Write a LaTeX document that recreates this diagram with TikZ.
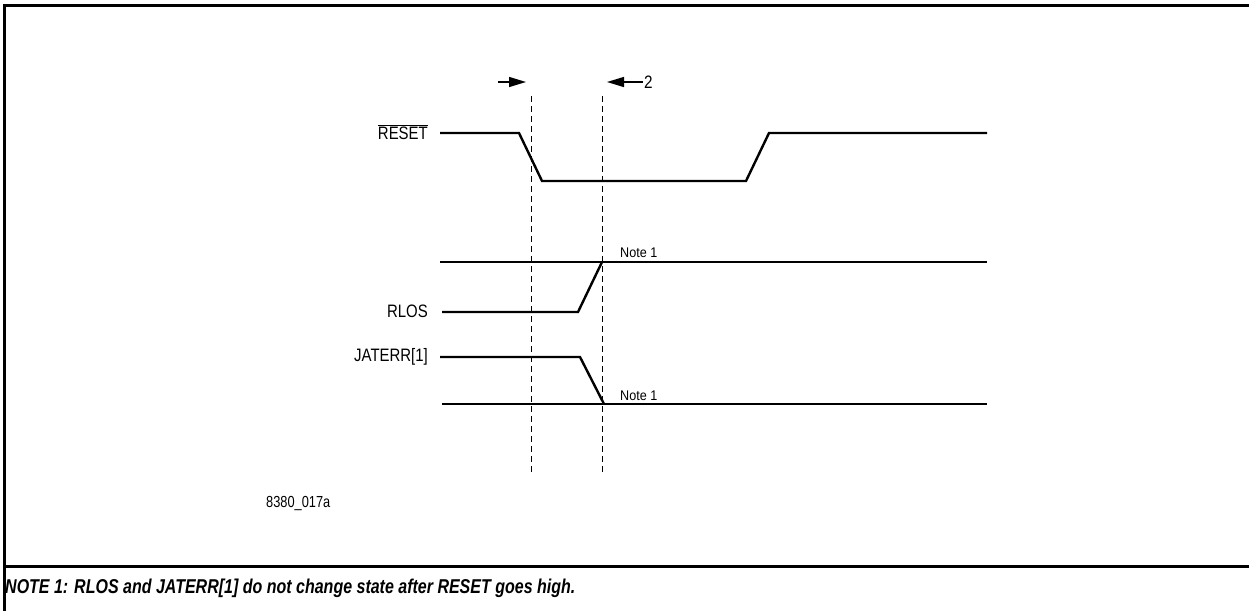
\documentclass[tikz,border=0pt]{standalone}
\usepackage{fontspec}
\setmainfont{Liberation Sans}
\usetikzlibrary{arrows.meta}
\newcommand{\narrow}[2]{\scalebox{#1}[1]{#2}}
\begin{document}
\begin{tikzpicture}[x=1pt,y=-1pt,
  frame/.style={line width=3pt},
  sig/.style={line width=2.4pt,line join=miter},
  guide/.style={line width=1pt,dash pattern=on 6pt off 4pt},
  marker/.style={line width=1.4pt,-{Triangle[length=17pt,width=10pt]}},
  lbl/.style={font=\fontsize{18}{21}\selectfont,inner sep=0pt,anchor=east},
  notelbl/.style={font=\fontsize{14}{16}\selectfont,inner sep=0pt,anchor=base west}]
\useasboundingbox (0,0) rectangle (1249,611);
% frame
\draw[frame] (1249,5) -- (4,5) -- (4,611);
\draw[frame] (4,566) -- (1249,566);
% guides
\coordinate (g1t) at (531,96); \coordinate (g1b) at (531,475);
\coordinate (g2t) at (602,96); \coordinate (g2b) at (602,475);
\draw[guide] (g1t) -- (g1b);
\draw[guide] (g2t) -- (g2b);
% timing markers
\coordinate (m1a) at (498,82); \coordinate (m1b) at (526,82);
\coordinate (m2a) at (643,82); \coordinate (m2b) at (607,82);
\draw[marker] (m1a) -- (m1b);
\draw[marker] (m2a) -- (m2b);
\node[lbl,anchor=west] (two) at (644,82) {\narrow{0.85}{2}};
% labels
\node[lbl] (reset) at (428,132) {\narrow{0.83}{$\overline{\mbox{RESET}}$}};
\node[lbl] (rlos) at (428,311) {\narrow{0.83}{RLOS}};
\node[lbl] (jat) at (428,357) {\narrow{0.83}{JATERR[1]}};
% RESET
\draw[sig] (440,133) -- (519,133) -- (542,181) -- (746,181) -- (769,133) -- (987,133);
% RLOS
\draw[sig] (440,262) -- (987,262);
\draw[sig] (442,312) -- (578,312) -- (602,262);
\node[notelbl] (n1) at (620,257) {\narrow{0.9}{Note 1}};
% JATERR
\draw[sig] (440,357) -- (580,357) -- (604,404);
\draw[sig] (442,404) -- (987,404);
\node[notelbl] (n2) at (620,400) {\narrow{0.9}{Note 1}};
% figure id
\node[font=\fontsize{16}{18}\selectfont,inner sep=0pt,anchor=west] (fid) at (266,503) {\narrow{0.8}{8380\_017a}};
% note
\node[font=\fontsize{20}{23}\selectfont\bfseries\itshape,inner sep=0pt,anchor=west] (note) at (5,588)
  {\narrow{0.8}{NOTE 1: RLOS and JATERR[1] do not change state after RESET goes high.}};
\end{tikzpicture}
\end{document}
